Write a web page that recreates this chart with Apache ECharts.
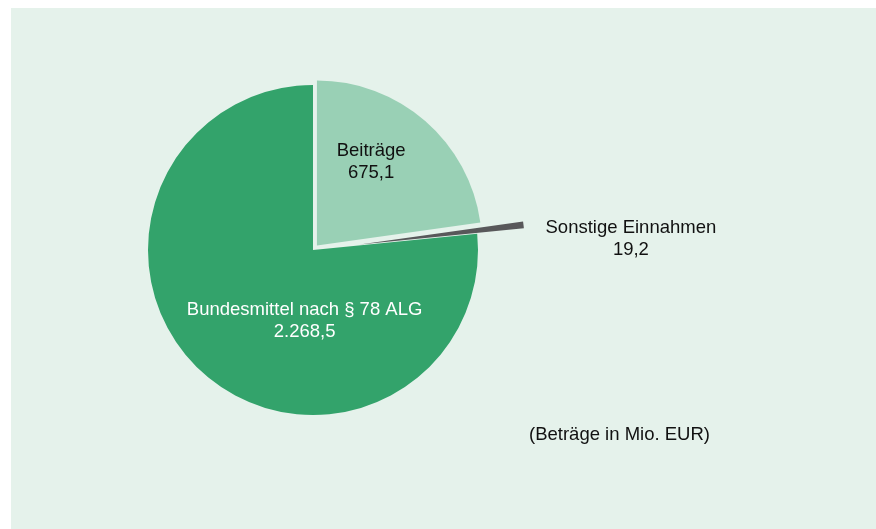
<!DOCTYPE html>
<html>
<head>
<meta charset="utf-8">
<script src="https://cdn.jsdelivr.net/npm/echarts@6/dist/echarts.min.js"></script>
<style>
  html, body { margin: 0; padding: 0; background: #fff; }
  #chart { width: 876px; height: 529px; }
</style>
</head>
<body>
<div id="chart"></div>
<script>
var names = ['Beiträge', 'Sonstige Einnahmen', 'Bundesmittel nach § 78 ALG'];
var values = [675.1, 19.2, 2268.5];
var valueLabels = ['675,1', '19,2', '2.268,5'];
var colors = ['#99d0b5', '#58585a', '#33a36b'];
var note = '(Beträge in Mio. EUR)';

var font = 'Liberation Sans, Arial, sans-serif';
var center = [313, 250];
var radius = 165;

// builds one pie layer; only the indices in `visible` get a colour,
// the ones in `pulled` are moved out by `offset`
function layer(visible, pulled, offset) {
  var data = names.map(function(n, i) {
    var shown = visible.indexOf(i) >= 0;
    return {
      name: n,
      value: values[i],
      selected: pulled.indexOf(i) >= 0,
      itemStyle: { color: shown ? colors[i] : 'transparent' }
    };
  });
  return {
    type: 'pie',
    center: center,
    radius: radius,
    startAngle: 90,
    clockwise: true,
    selectedMode: 'multiple',
    selectedOffset: offset,
    silent: true,
    emphasis: { disabled: true },
    label: { show: false },
    labelLine: { show: false },
    data: data
  };
}

// label layer: transparent slices, only text
var labelOffsets = [[2, -24], [233, -1], [49, 8]];
var labelSeries = layer([], [], 0);
labelSeries.z = 5;
labelSeries.data.forEach(function(d, i) {
  d.label = {
    show: true,
    position: 'inside',
    formatter: names[i] + '\n' + valueLabels[i],
    fontFamily: font,
    fontSize: 18.5,
    lineHeight: 22,
    align: 'center',
    color: i === 2 ? '#ffffff' : '#111111',
    offset: labelOffsets[i]
  };
});

var option = {
  animation: false,
  backgroundColor: '#ffffff',
  graphic: [
    {
      type: 'rect',
      z: -10,
      shape: { x: 11, y: 8, width: 865, height: 521 },
      style: { fill: '#e5f2eb' }
    },
    {
      type: 'text',
      x: 529,
      y: 435,
      style: { text: note, font: '18.5px ' + font, fill: '#111111', verticalAlign: 'middle' }
    }
  ],
  series: [
    layer([0, 2], [0], 6),
    layer([1], [1], 47),
    labelSeries
  ]
};

var chart = echarts.init(document.getElementById('chart'), null, { renderer: 'canvas' });
chart.setOption(option);
</script>
</body>
</html>
